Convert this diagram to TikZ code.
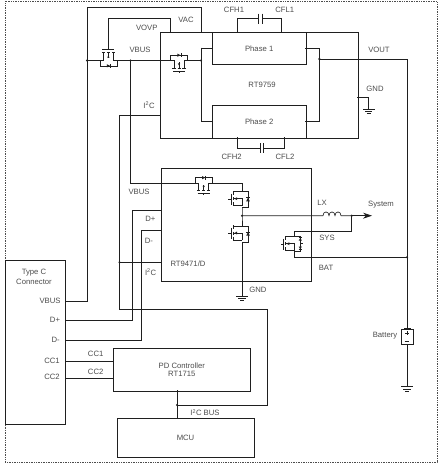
\documentclass[tikz,border=0pt]{standalone}
\usepackage{fontspec}
\setmainfont{Liberation Sans}
\usetikzlibrary{arrows.meta}
\definecolor{ink}{gray}{0.12}
\definecolor{lab}{gray}{0.3}
\tikzset{
  wire/.style={draw=ink,line width=0.65pt,line cap=rect},
  fine/.style={draw=ink,line width=0.45pt},
  heavy/.style={draw=ink,line width=0.65pt},
  lbl/.style={text=lab,font=\fontsize{7.7}{9}\selectfont,inner sep=0pt,align=center},
  dot/.style={circle,fill=ink,inner sep=0pt,minimum size=2.4pt},
  ic/.style={draw=ink,line width=0.65pt,rectangle,inner sep=0pt,text=lab,font=\fontsize{7.7}{9}\selectfont,align=center,anchor=north west},
  pics/passfet/.style={code={
    \draw[fine] (-8.5,0)--(-5,0)--(-5,7.5) (8.5,0)--(5,0)--(5,7.5);
    \draw[fine] (-8.5,0)--(-8.5,-5.3)--(8.5,-5.3)--(8.5,0);
    \fill[ink] (-1.6,-6.9)--(1.6,-5.3)--(-1.6,-3.7)--cycle;
    \draw[fine] (1.8,-7.1)--(1.8,-3.5);
    \draw[heavy] (-6.6,7.7)--(-3.4,7.7) (-1.5,7.7)--(1.5,7.7) (3.4,7.7)--(6.6,7.7);
    \draw[fine] (0,7.7)--(0,2);
    \fill[ink] (0,5)--(-1.2,2.8)--(1.2,2.8)--cycle;
    \draw[heavy] (-6,10.7)--(6,10.7);
    \draw[fine] (0,10.7)--(0,12.2);
  }},
  pics/sideFet/.style={code={
    \draw[fine] (0,0)--(-8.7,0);
    \draw[fine] (0,14)--(-8.7,14);
    \draw[heavy] (-8.7,-0.6)--(-8.7,3.4) (-8.7,5.6)--(-8.7,8.6) (-8.7,10.6)--(-8.7,14.6);
    \draw[fine] (-11,2)--(-11,13);
    \draw[fine] (-11,7.5)--(-13.7,7.5);
    \draw[fine] (-8.7,7)--(0,7)--(0,14);
    \fill[ink] (-7.7,7)--(-5,5.6)--(-5,8.4)--cycle;
  }},
  pics/oneDiode/.style={code={
    \draw[fine] (0,0)--(6,0)--(6,16)--(0,16);
    \fill[ink] (6,6)--(7.8,9.6)--(4.2,9.6)--cycle;
    \draw[fine] (4,5.8)--(8,5.8);
  }},
  pics/twoDiode/.style={code={
    \draw[fine] (0,-0.5)--(6,-0.5)--(6,14.5)--(0,14.5);
    \fill[ink] (6,1.2)--(7.6,4)--(4.4,4)--cycle;
    \fill[ink] (6,12.6)--(7.6,9.8)--(4.4,9.8)--cycle;
    \draw[fine] (4.4,1)--(7.6,1) (4.4,12.8)--(7.6,12.8);
    \draw[fine] (6,6.9)--(8.5,6.9);
  }},
  pics/earth/.style={code={
    \draw[wire] (-5.5,0)--(5.5,0);
    \draw[fine] (-3.6,2.3)--(3.6,2.3);
    \draw[fine] (-1.8,4.4)--(1.8,4.4);
  }},
}
\newcommand{\icbox}[6]{\node[ic,minimum width=#4-#2 pt,minimum height=#5-#3 pt] (#1) at (#2,#3) {#6};}
\begin{document}
\begin{tikzpicture}[x=1pt,y=-1pt]
\useasboundingbox (0,0) rectangle (440,465);
% frame
\draw[draw=lab,line width=0.7pt,densely dotted] (5,1.5) rectangle (437,462);
% blocks
\icbox{rta}{160}{32}{357.7}{137.7}{}
\icbox{pa}{212}{32}{305.7}{64}{Phase 1}
\icbox{pb}{212}{105.3}{305.7}{137.7}{Phase 2}
\icbox{rtb}{160.7}{168.3}{310.7}{281}{}
\icbox{usb}{4.7}{260.3}{65}{424}{}
\icbox{pd}{113}{348.3}{250}{390.7}{PD Controller\\[-0.6pt]RT1715}
\icbox{mcu}{116.7}{418.3}{253.7}{457}{MCU}
% junctions
\coordinate (j87) at (87,60.5);
\coordinate (j130) at (130.5,60.5);
\coordinate (j201) at (201,60.5);
\coordinate (jout) at (319.3,59);
\coordinate (jbat) at (407,257.3);
\coordinate (jlx) at (242,215.7);
\coordinate (jsys) at (351.7,215.7);
\coordinate (ji2c) at (119.5,262.3);
\coordinate (jbus) at (177,405);
% top wires to Type C
\draw[wire] (j87)--(87,7)--(201.7,7)--(201.7,32);
\draw[wire] (j87)--(87,301)--(65,301);
\draw[wire] (108.4,49.3)--(108.4,18)--(170,18)--(170,32);
% VBUS rail and pass fets
\pic[yscale=-1] (q1) at (108.4,60.5) {passfet};
\pic (q2) at (179,60.5) {passfet};
\draw[wire] (j87)--(99.9,60.5) (116.9,60.5)--(170.5,60.5) (187.5,60.5)--(j201);
\draw[wire] (201,48)--(201,121.5);
\draw[wire] (201,48)--(212,48) (201,121.5)--(212,121.5);
% second VBUS
\draw[wire] (j130)--(130.5,183)--(195.2,183);
\pic (q3) at (203.7,183) {passfet};
\draw[wire] (212.2,183)--(242,183)--(242,191.7);
% buck fets
\pic (hs) at (242,191.7) {sideFet};
\pic at (242,191.7) {oneDiode};
\pic (ls) at (242,226) {sideFet};
\pic at (242,226) {oneDiode};
\draw[wire] (242,207.7)--(jlx)--(242,226);
\draw[wire] (242,242)--(242,296);
\pic at (242,296) {earth};
% LX, inductor, arrow
\draw[wire] (jlx)--(323,215.7)
  .. controls +(0,-5) and +(0,-5) .. (329,215.7)
  .. controls +(0,-5) and +(0,-5) .. (335,215.7)
  .. controls +(0,-5) and +(0,-5) .. (341,215.7)--(jsys);
\draw[wire,-{Stealth[length=9pt,width=6pt]}] (jsys)--(372,215.7);
% battery fet
\draw[wire] (jsys)--(351.7,231)--(294.3,231)--(294.3,236.7);
\pic (qb) at (294.3,236.7) {sideFet};
\pic at (294.3,236.7) {twoDiode};
\draw[wire] (294.3,250.7)--(294.3,257.3)--(jbat);
% VOUT, battery
\draw[wire] (305.7,48)--(319.3,48)--(319.3,121.5)--(305.7,121.5);
\draw[wire] (jout)--(407,59)--(407,329.3);
\draw[wire] (407,344.3)--(407,386.7);
\node[draw=ink,line width=0.6pt,inner sep=0pt,minimum width=12.7pt,minimum height=15pt] (batt) at (407.3,336.8) {};
\draw[fine] (404.5,329.3)--(404.5,327.8)--(410,327.8)--(410,329.3);
\draw[fine] (407,331.3)--(407,335.3) (405,333.3)--(409,333.3) (404.6,341.3)--(409.4,341.3);
\pic at (407,386.7) {earth};
% GND of RT9759
\draw[wire] (357.7,97)--(368.7,97)--(368.7,109);
\pic at (368.7,109) {earth};
% flying caps
\draw[wire] (237.3,32)--(237.3,18.7)--(258.3,18.7) (262,18.7)--(281.3,18.7)--(281.3,32);
\draw[wire] (258.3,14)--(258.3,23.4) (262,14)--(262,23.4);
\draw[wire] (237.3,137.7)--(237.3,148.3)--(260.3,148.3) (263.7,148.3)--(284,148.3)--(284,137.7);
\draw[wire] (260.3,143.6)--(260.3,153) (263.7,143.6)--(263.7,153);
% I2C bus
\draw[wire] (160,115)--(119.5,115)--(119.5,309.7)--(267.3,309.7)--(267.3,405)--(jbus);
\draw[wire] (ji2c)--(160.7,262.3);
\draw[wire] (177,390.7)--(177,418.3);
% data
\draw[wire] (160.7,210)--(132.5,210)--(132.5,320.3)--(65,320.3);
\draw[wire] (160.7,230.7)--(141,230.7)--(141,340.7)--(65,340.7);
\draw[wire] (65,361.3)--(113,361.3) (65,378)--(113,378);
% dots
\foreach \p in {j87,j130,j201,jout,jbat,jlx,jsys,ji2c,jbus} \node[dot] at (\p) {};
% labels
\node[lbl] (t1) at (146.7,28.3) {VOVP};
\node[lbl] (t2) at (186,20) {VAC};
\node[lbl] (t3) at (140,50) {VBUS};
\node[lbl] (t4) at (149,105) {I\textsuperscript{2}C};
\node[lbl] (t5) at (234,10) {CFH1};
\node[lbl] (t6) at (284.7,10) {CFL1};
\node[lbl] (t7) at (231.7,156.7) {CFH2};
\node[lbl] (t8) at (285,156.7) {CFL2};
\node[lbl] (t9) at (262,85) {RT9759};
\node[lbl] (t10) at (379,50) {VOUT};
\node[lbl] (t11) at (375,89) {GND};
\node[lbl] (t12) at (139,191.7) {VBUS};
\node[lbl] (t13) at (150.3,219) {D+};
\node[lbl] (t14) at (149,241) {D-};
\node[lbl] (t15) at (150.7,272) {I\textsuperscript{2}C};
\node[lbl] (t16) at (188,264) {RT9471/D};
\node[lbl] (t17) at (258,289.7) {GND};
\node[lbl] (t18) at (322,202.7) {LX};
\node[lbl] (t19) at (327,238) {SYS};
\node[lbl] (t20) at (326,268) {BAT};
\node[lbl] (t21) at (381,205) {System};
\node[lbl] (t22) at (385,336) {Battery};
\node[lbl] (t23) at (34,273) {Type C};
\node[lbl] (t24) at (34,282.3) {Connector};
\node[lbl] (t25) at (50,301) {VBUS};
\node[lbl] (t26) at (55,320) {D+};
\node[lbl] (t27) at (55.7,340) {D-};
\node[lbl] (t28) at (52,361) {CC1};
\node[lbl] (t29) at (52,377.3) {CC2};
\node[lbl] (t30) at (95.7,354) {CC1};
\node[lbl] (t31) at (95.7,371.7) {CC2};
\node[lbl] (t32) at (205,412.7) {I\textsuperscript{2}C BUS};
\end{tikzpicture}
\end{document}
